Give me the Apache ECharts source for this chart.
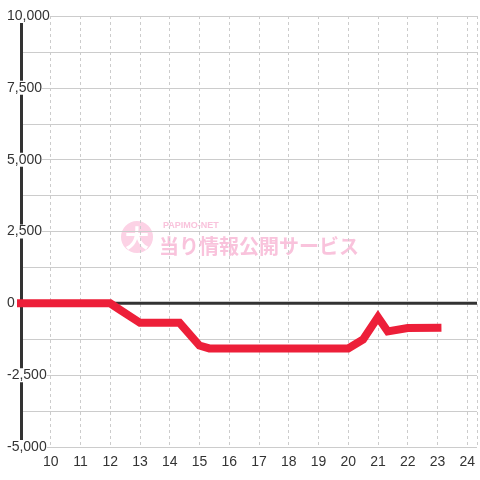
<!DOCTYPE html>
<html>
<head>
<meta charset="utf-8">
<script src="https://cdn.jsdelivr.net/npm/echarts@6/dist/echarts.min.js"></script>
<style>
  html, body { margin: 0; padding: 0; background: #fff; }
  #chart { width: 480px; height: 480px; }
</style>
</head>
<body>
<div id="chart"></div>
<script>
  // time of day (hours) and balance
  var times  = [9, 12, 12.33, 13, 14.33, 15, 15.33, 20, 20.5, 21, 21.33, 22, 23];
  var values = [0, 0, -230, -680, -680, -1470, -1570, -1570, -1260, -480, -980, -860, -850];
  var xHours = [10, 11, 12, 13, 14, 15, 16, 17, 18, 19, 20, 21, 22, 23, 24];
  var yLabels = [-5000, -2500, 0, 2500, 5000, 7500, 10000];

  var font = '"Liberation Sans", Arial, sans-serif';
  var chart = echarts.init(document.getElementById('chart'));

  var lineData = times.map(function (t, i) { return [t, values[i]]; });
  var xMin = 9, xMax = 24.33;

  chart.setOption({
    backgroundColor: '#fff',
    animation: false,
    grid: { left: 21, right: 0, top: 16, bottom: 33 },
    // watermark
    graphic: [
      { type: 'circle', z: -10, shape: { cx: 137, cy: 237, r: 16 }, style: { fill: '#fcd2e5' } },
      { type: 'text', z: -10, x: 137, y: 238, style: { text: '大', fill: '#fff', font: 'bold 24px "Noto Sans CJK JP"', align: 'center', verticalAlign: 'middle' } },
      { type: 'text', z: -10, x: 163, y: 226, style: { text: 'PAPIMO-NET', fill: '#f9c3dc', font: 'bold 9px ' + font, verticalAlign: 'middle' } },
      { type: 'text', z: -10, x: 159, y: 246, style: { text: '当り情報公開サービス', fill: '#f9c3dc', font: 'bold 20px "Noto Sans CJK JP"', verticalAlign: 'middle' } }
    ],
    xAxis: {
      type: 'value',
      min: xMin,
      max: xMax,
      interval: 1,
      axisLine: { show: false },
      axisTick: { show: false },
      axisLabel: {
        color: '#333', fontSize: 14, fontFamily: font, margin: 8,
        formatter: function (v) { return xHours.indexOf(v) >= 0 ? String(v) : ''; }
      },
      splitLine: { show: true, lineStyle: { color: '#ccc', type: [3, 3], width: 1 } }
    },
    yAxis: {
      type: 'value',
      min: -5000,
      max: 10000,
      interval: 1250,
      axisLine: { show: true, lineStyle: { color: '#333', width: 3 } },
      axisTick: { show: false },
      axisLabel: {
        color: '#333', fontSize: 14, fontFamily: font, align: 'left', margin: 14,
        backgroundColor: '#fff',
        formatter: function (v) { return yLabels.indexOf(v) >= 0 ? v.toLocaleString('en-US') : ''; }
      },
      splitLine: { show: true, lineStyle: { color: '#ccc', width: 1 } }
    },
    series: [
      {
        // zero line
        type: 'line',
        data: [[xMin, 0], [xMax, 0]],
        symbol: 'none',
        silent: true,
        lineStyle: { color: '#333', width: 3 }
      },
      {
        type: 'line',
        data: lineData,
        symbol: 'none',
        lineStyle: { color: '#ed1f39', width: 8, cap: 'square', join: 'miter' }
      }
    ]
  });
</script>
</body>
</html>
